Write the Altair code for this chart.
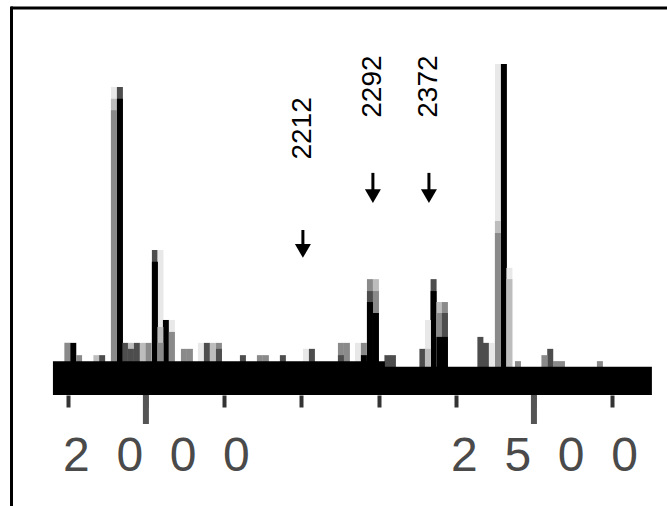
import altair as alt
import pandas as pd

# ---- spectrum columns (m/z, relative intensity, shade) ----
col_mz = [1898.8, 1906.4, 1913.9, 1936.2, 1943.6,
          1958.8, 1958.8, 1958.8, 1966.5, 1966.5,
          1973.6, 1980.7, 1980.7, 1988.4, 1996.1, 2003.5,
          2011.6, 2011.6, 2018.7, 2018.7, 2018.7,
          2025.8, 2033.5, 2033.5,
          2049.0, 2056.7, 2070.9, 2078.6, 2086.3, 2094.1, 2094.1,
          2125.0, 2146.9, 2154.6, 2176.5,
          2206.2, 2213.9,
          2251.3, 2251.3, 2259.0, 2273.2, 2280.9, 2280.9,
          2288.7, 2288.7, 2288.7, 2296.4, 2296.4, 2296.4,
          2311.2, 2318.3,
          2356.3, 2363.4, 2363.4,
          2370.7, 2370.7, 2378.2, 2378.2, 2378.2, 2385.3, 2385.3, 2385.3,
          2431.0, 2438.1, 2445.9,
          2453.6, 2453.6, 2453.6, 2461.3, 2468.4, 2468.4,
          2479.4, 2513.5, 2521.0, 2528.4, 2536.1, 2585.0]
col_h = [15.7, 15.7, 12.0, 12.0, 12.0,
         92.8, 89.2, 85.8, 92.8, 89.2,
         15.7, 15.7, 13.9, 15.7, 15.7, 15.7,
         43.7, 40.1, 43.7, 20.5, 15.7,
         22.6, 22.6, 19.0,
         13.9, 13.9, 15.7, 15.7, 15.7, 15.7, 13.9,
         12.0, 12.0, 12.0, 12.0,
         13.9, 13.9,
         15.7, 12.0, 15.7, 15.7, 15.7, 12.0,
         34.9, 31.3, 28.0, 34.9, 31.3, 24.7,
         12.0, 12.0,
         13.9, 22.6, 13.9,
         34.9, 31.3, 28.0, 24.7, 17.5, 28.0, 24.7, 17.5,
         17.5, 15.7, 15.7,
         99.7, 52.4, 48.8, 99.7, 38.3, 34.9,
         10.2, 12.0, 13.9, 10.2, 10.2, 10.2]
col_shade = ["g", "k", "g", "l", "d",
             "v", "l", "g", "d", "k",
             "d", "l", "d", "d", "l", "g",
             "d", "k", "v", "l", "g",
             "k", "v", "g",
             "g", "g", "v", "d", "l", "g", "d",
             "d", "g", "g", "d",
             "v", "d",
             "g", "d", "g", "v", "g", "k",
             "g", "d", "k", "l", "g", "k",
             "d", "d",
             "d", "v", "l",
             "d", "k", "l", "g", "k", "g", "d", "k",
             "d", "d", "v",
             "v", "l", "g", "k", "v", "l",
             "g", "g", "d", "g", "g", "g"]

# solid noise band (step area)
floor_mz = [1880.2, 2308.0, 2652.0]
floor_h = [10.2, 8.5, 8.5]

# axis
tick_values = [1900, 2000, 2100, 2200, 2300, 2400, 2500, 2600]
major_ticks = [2000, 2500]

# annotations
arrow_mz = [2202.3, 2292.5, 2364.7]
arrow_top = [49.7, 66.9, 66.9]
arrow_head = [43.4, 59.9, 59.9]
label_h = [80.3, 92.9, 92.9]
arrow_text = ["2212", "2292", "2372"]

cols = pd.DataFrame({"mz": col_mz, "h": col_h, "shade": col_shade})
floor = pd.DataFrame({"mz": floor_mz, "h": floor_h})
majors = pd.DataFrame({"mz": major_ticks})
arrows = pd.DataFrame({"mz": arrow_mz, "top": arrow_top, "head": arrow_head,
                       "lab": label_h, "text": arrow_text})
one = pd.DataFrame({"a": [0]})

W, H = 603, 335
x_scale = alt.Scale(domain=[1879, 2656], nice=False, zero=False, padding=0)
y_scale = alt.Scale(domain=[0, 100.9], nice=False, zero=True, padding=0)

nb = "\u00a0\u00a0"
label_expr = (f"indexof({major_ticks}, datum.value) >= 0 ? "
              f"join(split(toString(datum.value), ''), '{nb}') : ''")
x_axis = alt.Axis(values=tick_values, tickSize=12, tickWidth=4, tickColor="#333333",
                  domain=False, grid=False, labelExpr=label_expr,
                  labelFont="Liberation Sans", labelFontSize=48, labelColor="#4a4a4a",
                  labelPadding=25, labelOffset=10, labelOverlap=False, labelFlush=False,
                  labelLimit=0, title=None)


def X():
    return alt.X("mz:Q", scale=x_scale, axis=x_axis)


def Y(f):
    return alt.Y(f"{f}:Q", scale=y_scale, axis=None, stack=None)


shade_scale = alt.Scale(domain=["k", "d", "g", "l", "v"],
                        range=["#000000", "#4d4d4d", "#8a8a8a", "#bdbdbd", "#e8e8e8"])

bars = alt.Chart(cols).mark_bar(size=6).encode(
    x=X(), y=Y("h"),
    color=alt.Color("shade:N", scale=shade_scale, legend=None),
    order=alt.Order("h:Q", sort="descending"),
)

band = alt.Chart(floor).mark_area(interpolate="step-after", color="black").encode(
    x=X(), y=Y("h"))

major_rules = alt.Chart(majors).mark_rule(strokeWidth=6, color="#555555").encode(
    x=X(), y=alt.value(H), y2=alt.value(H + 29))

shafts = alt.Chart(arrows).mark_rule(strokeWidth=3, color="black").encode(
    x=X(), y=Y("top"), y2=alt.Y2("head"))
heads = alt.Chart(arrows).mark_point(shape="triangle-down", size=256, filled=True,
                                     color="black", opacity=1).encode(x=X(), y=Y("head"))
labels = alt.Chart(arrows).mark_text(angle=270, fontSize=28, font="Liberation Sans",
                                     align="center", baseline="middle",
                                     color="black").encode(x=X(), y=Y("lab"), text="text:N")

border_top = alt.Chart(one).mark_rule(strokeWidth=3, color="black").encode(
    x=alt.value(-41), x2=alt.value(620), y=alt.value(-52))
border_left = alt.Chart(one).mark_rule(strokeWidth=3, color="black").encode(
    x=alt.value(-40.5), y=alt.value(-53.5), y2=alt.value(450))

chart = alt.layer(bars, band, major_rules, shafts, heads, labels, border_top, border_left).properties(
    width=W, height=H,
    padding={"left": 52, "top": 60, "right": 12, "bottom": 111},
    autosize=alt.AutoSizeParams(type="none"),
    background="white",
).configure_view(stroke=None)

chart.save("out.html", embed_options={"renderer": "svg", "actions": False})
